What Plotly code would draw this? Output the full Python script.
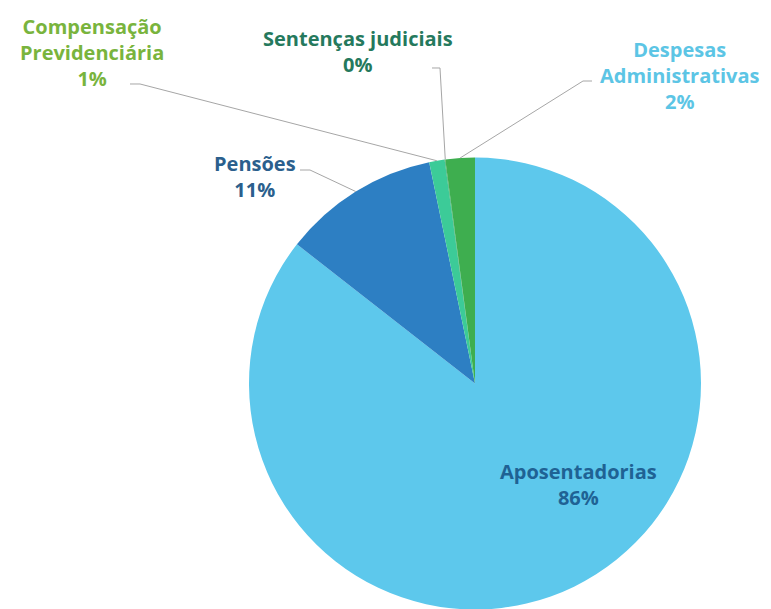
import math
import plotly.graph_objects as go

# ---- data ----
labels = ["Aposentadorias", "Pensões", "Compensação Previdenciária",
          "Sentenças judiciais", "Despesas Administrativas"]
values = [85.6, 11.2, 1.1, 0.05, 2.1]
slice_colors = ["#5DC8EC", "#2D7FC3", "#3CCB98", "#35A86A", "#3EAE4F"]
label_colors = ["#1F6294", "#2B5F8D", "#79B43D", "#25795D", "#5CC5E5"]
label_texts = ["Aposentadorias<br>86%", "Pensões<br>11%",
               "Compensação<br>Previdenciária<br>1%",
               "Sentenças judiciais<br>0%",
               "Despesas<br>Administrativas<br>2%"]

W, H = 771, 609
OFF = 8  # page body margin in the browser
FONT = "Open Sans"

# pie geometry (screen pixels)
cx, top, R = 475, 157.5, 226
cy = top + R


def px(x):
    return (x - OFF) / W


def py(y):
    return 1 - (y - OFF) / H


fig = go.Figure(go.Pie(
    labels=labels, values=values, sort=False, direction="clockwise",
    rotation=0, marker=dict(colors=slice_colors, line=dict(width=0)),
    textinfo="none", hoverinfo="label+percent",
    domain=dict(x=[px(cx - R), px(cx + R)], y=[py(top + 2 * R), py(top)]),
    showlegend=False,
))

# angles (clockwise from 12 o'clock) of slice midpoints and end bounds
total = sum(values)
mids, bounds = [], []
acc = 0
for v in values:
    mids.append((acc + v / 2) / total * 360)
    acc += v
    bounds.append(acc / total * 360)


def edge(angle_deg, r=R):
    a = math.radians(angle_deg)
    return cx + r * math.sin(a), cy - r * math.cos(a)


# label positions (screen pixel centres) and leader elbows
label_pos = {
    0: (578, 484),
    1: (255, 176),
    2: (92, 52),
    3: (358, 51),
    4: (679, 76),
}
leaders = {
    1: [(300, 170), (310, 170), edge(mids[1])],
    2: [(130, 84), (140, 84), edge(mids[2])],
    3: [(432, 68), (440, 68), edge(bounds[3])],
    4: [(592, 81), (583, 81), edge(mids[4])],
}

shapes = []
for i, pts in leaders.items():
    path = "M " + " L ".join(f"{px(x):.5f},{py(y):.5f}" for x, y in pts)
    shapes.append(dict(type="path", path=path, xref="paper", yref="paper",
                       line=dict(color="#A6A6A6", width=1)))

annotations = []
for i, (x, y) in label_pos.items():
    annotations.append(dict(
        x=px(x), y=py(y), xref="paper", yref="paper", showarrow=False,
        text=label_texts[i], align="center", xanchor="center", yanchor="middle",
        font=dict(family=FONT, size=20, color=label_colors[i], weight="bold"),
    ))

fig.update_layout(
    width=W, height=H, margin=dict(l=0, r=0, t=0, b=0),
    paper_bgcolor="white", plot_bgcolor="white",
    shapes=shapes, annotations=annotations,
)

fig.write_html("out.html")
